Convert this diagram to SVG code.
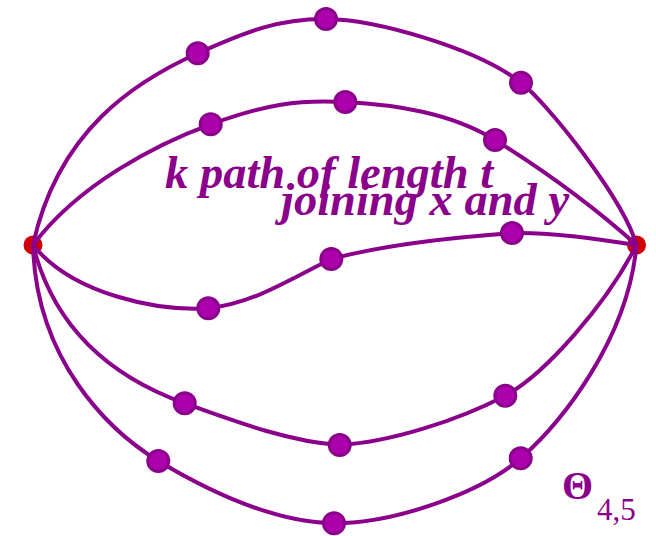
<svg xmlns="http://www.w3.org/2000/svg" width="656" height="536" viewBox="0 0 656 536">
<style>
.e{fill:none;stroke:#8b008b;stroke-width:4}
.d{fill:#ad00ad;stroke:#8b008b;stroke-width:3}
</style>
<rect width="656" height="536" fill="#fff"/>
<g id="x"><circle cx="33" cy="245" r="9.5" fill="#d00000"/></g>
<g id="y"><circle cx="636.5" cy="245" r="9.5" fill="#d00000"/></g>
<g id="edges">
<path class="e" d="M33,245 C58,130 135.7,81.3 197.7,53.3 C247,31 280,18.5 326,19 C375,19.5 476,47.7 521,82.7 C549,104.7 624,200 636.5,245"/>
<path class="e" d="M33,245 C78,185 155.7,144.3 210.7,124.3 C265.7,104.3 297.9,99.4 345.3,102 C392.7,104.6 450,112 495,140 C540,168 594,207 636.5,245"/>
<path class="e" d="M33,245 C73,295 158.3,311.3 208.3,308.3 C253.3,303.3 286.3,281 331.3,259 C386.3,244 457,237 512,233 C552,232 596,239 636.5,245"/>
<path class="e" d="M33,245 C58,345 134.7,385.3 184.7,403.3 C234.7,421.3 289.7,442 339.7,445 C389.7,442 457.3,420.7 505.3,395.7 C545.3,373.7 606,305 636.5,245"/>
<path class="e" d="M33,245 C36,360 108,430 158.3,461 C208.3,491 274,522.3 334,523.3 C394,523.3 480.7,493.3 520.7,458.3 C560.7,423.3 628,340 636.5,245"/>
</g>
<g id="p1"><circle class="d" cx="197.7" cy="53.3" r="10.5"/><circle class="d" cx="326" cy="19" r="10.5"/><circle class="d" cx="521" cy="82.7" r="10.5"/></g>
<g id="p2"><circle class="d" cx="210.7" cy="124.3" r="10.5"/><circle class="d" cx="345.3" cy="102" r="10.5"/><circle class="d" cx="495" cy="140" r="10.5"/></g>
<g id="p3"><circle class="d" cx="208.3" cy="308.3" r="10.5"/><circle class="d" cx="331.3" cy="259" r="10.5"/><circle class="d" cx="512" cy="233" r="10.5"/></g>
<g id="p4"><circle class="d" cx="184.7" cy="403.3" r="10.5"/><circle class="d" cx="339.7" cy="445" r="10.5"/><circle class="d" cx="505.3" cy="395.7" r="10.5"/></g>
<g id="p5"><circle class="d" cx="158.3" cy="461" r="10.5"/><circle class="d" cx="334" cy="523.3" r="10.5"/><circle class="d" cx="520.7" cy="458.3" r="10.5"/></g>
<g id="label" fill="#8b008b" font-family="'Liberation Serif', 'Times New Roman', serif" font-weight="bold" font-style="italic" font-size="46.5">
<text x="165" y="188">k path of length t</text>
<text x="281" y="215">joining x and y</text>
</g>
<g id="theta" fill="#8b008b" font-family="'Liberation Serif', serif">
<text x="562" y="499" font-size="40" font-weight="bold">Θ</text>
<text x="597" y="520" font-size="31">4,5</text>
</g>
</svg>
